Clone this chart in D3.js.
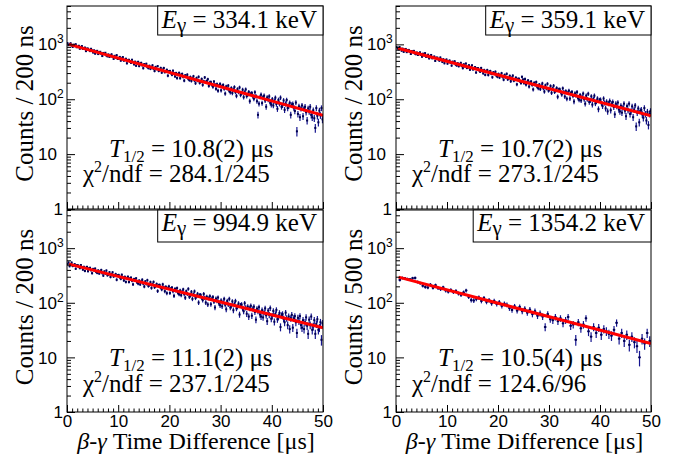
<!DOCTYPE html>
<html><head><meta charset="utf-8">
<script src="https://cdn.jsdelivr.net/npm/d3@7"></script>
<style>body{margin:0;background:#fff}svg{display:block}</style>
</head><body>
<svg id="c" width="676" height="461"></svg>
<script>
// ---------------- data ----------------
const energies = ["334.1", "359.1", "994.9", "1354.2"];
const halfLives = ["10.8(2)", "10.7(2)", "11.1(2)", "10.5(4)"];
const chi2Texts = ["284.1/245", "273.1/245", "237.1/245", "124.6/96"];
const yTitles = ["Counts / 200 ns", "Counts / 200 ns", "Counts / 200 ns", "Counts / 500 ns"];
const binWidths = [0.2, 0.2, 0.2, 0.5];
const firstBinCenters = [0.1, 0.1, 0.1, 0.75];
const xTickValues = [0, 10, 20, 30, 40, 50];
const yTickValues = [1, 10, 100, 1000];
const xTitle = "Time Difference [μs]";

const countsA = [
1049,965,1008,1046,957,899,989,935,1004,885,
896,943,834,891,929,829,842,873,752,835,
835,787,753,831,773,711,774,677,742,763,
665,721,733,675,612,698,667,703,627,606,
653,588,625,657,588,545,618,577,634,541,
552,591,507,553,586,507,520,546,452,520,
522,485,460,523,478,432,483,408,461,480,
402,448,460,416,368,437,413,443,385,369,
406,358,388,414,361,327,387,355,401,330,
340,372,306,344,371,311,321,343,269,324,
327,299,279,331,296,261,301,243,286,302,
242,280,289,255,218,273,256,280,235,224,
254,216,241,262,221,196,243,219,256,200,
208,234,183,213,250,205,215,232,175,202,
205,183,169,210,184,155,188,143,177,190,
145,174,182,156,127,171,157,177,142,134,
160,130,150,167,135,115,153,135,164,120,
129,149,109,134,151,114,122,136,92,126,
130,113,102,134,114,92,52,83,110,121,
85,109,116,95,73,108,98,113,86,80,
100,77,93,107,82,67,97,83,107,73,
78,95,64,83,97,69,75,86,52,79,
82,70,61,87,26,54,74,47,68,77,
49,68,73,58,41,68,60,73,52,47,
63,45,30,69,50,38,62,51,69,43];

const countsB = [
897,846,811,894,833,768,834,732,802,825,
720,779,793,732,667,756,724,762,683,662,
709,641,681,714,643,596,674,631,690,593,
604,646,556,605,641,558,571,599,500,571,
573,535,507,575,528,478,533,453,509,529,
447,496,507,461,411,483,458,490,429,413,
452,400,432,460,404,369,431,398,447,371,
381,416,345,386,414,350,361,384,307,364,
367,338,317,371,335,297,340,278,324,340,
277,316,326,290,252,309,291,317,268,257,
289,249,275,298,254,227,277,252,291,231,
240,267,213,246,269,218,228,247,187,233,
235,213,197,256,228,197,233,185,206,220,
170,202,210,182,151,199,184,206,168,159,
185,153,175,194,159,138,179,158,191,144,
151,174,131,157,176,136,145,160,111,150,
152,135,122,158,135,112,140,102,132,143,
103,130,136,115,91,128,117,135,105,98,
119,95,111,127,100,83,116,100,126,89,
95,113,80,101,116,84,91,103,66,96,
98,84,75,103,86,68,90,60,84,93,
63,83,89,72,53,83,74,87,65,60,
76,57,71,83,62,49,75,63,83,54,
60,74,47,65,77,32,57,68,38,61,
64,53,46,69,54,41,59,34,54,61];

const countsC = [
509,547,467,513,544,471,484,509,420,485,
488,454,430,492,449,405,455,383,435,454,
379,425,437,394,348,416,393,423,367,353,
390,343,373,399,348,315,374,343,389,319,
329,362,297,335,361,303,313,335,264,318,
321,294,275,326,292,257,298,241,284,300,
240,278,288,254,217,272,256,280,235,225,
255,217,243,264,224,198,246,222,259,203,
212,239,187,218,241,193,203,221,164,208,
211,190,176,217,191,163,196,150,185,199,
151,182,190,163,134,180,166,186,151,143,
168,138,159,176,144,124,163,145,180,129,
137,159,118,143,162,123,132,146,101,137,
139,123,112,145,124,101,129,93,121,132,
94,119,127,105,82,119,108,125,97,90,
110,86,103,118,92,76,108,93,118,82,
88,106,73,94,108,79,85,97,61,90,
93,79,70,98,81,63,85,56,79,88,
58,78,85,68,49,78,70,83,61,56,
73,54,67,79,59,46,72,60,80,51,
57,71,45,62,74,50,55,65,36,59,
62,51,44,66,52,39,56,33,52,60,
35,52,57,44,28,53,46,57,39,35,
48,33,44,54,38,27,49,39,56,32,
37,48,27,41,50,32,35,44,21,42];

const countsD = [
262,285,280,272,268,282,285,240,228,205,
195,190,215,188,210,185,178,192,168,160,
172,158,165,148,140,155,168,128,112,110,
118,125,108,122,104,112,98,108,95,102,
88,96,92,80,74,86,72,84,70,78,
66,75,62,70,58,64,56,36,62,50,
48,55,46,52,42,48,55,38,40,21,
44,34,40,52,30,24,36,28,35,26,
33,30,27,25,32,43,22,28,20,26,
17,24,19,16,10,22,18,28,20];

// fit curves (straight lines on the log scale): [time, counts] end points
const fitA = [[0.4, 1000], [50, 51]];
const fitB = [[0.4, 850], [50, 50]];
const fitC = [[0.4, 510], [50, 35]];
const fitD = [[0.5, 295], [50, 18]];

const allCounts = [countsA, countsB, countsC, countsD];
const allFits = [fitA, fitB, fitC, fitD];

// ---------------- layout ----------------
const frames = [
  {l: 67, r: 323, t: 6, b: 209, bottomRow: false},
  {l: 396, r: 651, t: 6, b: 209, bottomRow: false},
  {l: 67, r: 323, t: 210, b: 412, bottomRow: true},
  {l: 396, r: 651, t: 210, b: 412, bottomRow: true}
];
const SANS = "'Liberation Sans', Arial, Helvetica, sans-serif";
const SERIF = "'Liberation Serif', 'Times New Roman', Times, serif";
const svg = d3.select("#c");
svg.append("rect").attr("width", 676).attr("height", 461).attr("fill", "#fff");

frames.forEach((f, k) => {
  const x = d3.scaleLinear().domain([0, 50]).range([f.l, f.r]);
  const y = d3.scaleLog().domain([1, 5000]).range([f.b, f.t]);
  const g = svg.append("g");
  const clipId = "clip" + k;
  svg.append("clipPath").attr("id", clipId).append("rect")
    .attr("x", f.l).attr("y", f.t).attr("width", f.r - f.l).attr("height", f.b - f.t);

  // data
  const counts = allCounts[k];
  const bw = binWidths[k];
  const pts = counts.map((v, i) => ({t: firstBinCenters[k] + i * bw, v}));
  const dg = g.append("g").attr("clip-path", `url(#${clipId})`)
    .attr("stroke", "#14148f").attr("stroke-width", 1.2).attr("fill", "none");
  dg.selectAll("line.ev").data(pts).join("line").attr("class", "ev")
    .attr("x1", d => x(d.t)).attr("x2", d => x(d.t))
    .attr("y1", d => y(Math.max(1, d.v - Math.sqrt(d.v))))
    .attr("y2", d => y(d.v + Math.sqrt(d.v)));
  dg.selectAll("line.eh").data(pts).join("line").attr("class", "eh")
    .attr("x1", d => x(d.t - bw / 2)).attr("x2", d => x(d.t + bw / 2))
    .attr("y1", d => y(d.v)).attr("y2", d => y(d.v));
  dg.selectAll("rect.mk").data(pts).join("rect").attr("class", "mk")
    .attr("x", d => x(d.t) - 1).attr("y", d => y(d.v) - 1).attr("width", 2).attr("height", 2)
    .attr("fill", "#000050").attr("stroke", "none");

  // fit
  g.append("path").attr("clip-path", `url(#${clipId})`)
    .datum(allFits[k])
    .attr("d", d3.line().x(d => x(d[0])).y(d => y(d[1])))
    .attr("stroke", "#ff0000").attr("stroke-width", 3).attr("fill", "none");

  // axes: y major + minor
  const yMajor = d3.axisLeft(y).tickValues(yTickValues).tickSize(-8).tickSizeOuter(0).tickFormat("");
  const yMinor = d3.axisLeft(y).tickValues(y.ticks().filter(v => !yTickValues.includes(v))).tickSize(-4).tickSizeOuter(0).tickFormat("");
  [yMajor, yMinor].forEach(ax => {
    const a = g.append("g").attr("transform", `translate(${f.l},0)`).call(ax);
    a.select(".domain").remove();
    a.selectAll("line").attr("stroke", "#000");
  });
  // y labels
  yTickValues.forEach(v => {
    const exp = Math.round(Math.log10(v));
    const t = g.append("text").attr("y", y(v)).attr("dy", "0.36em")
      .attr("font-family", SANS).attr("font-size", 17).attr("fill", "#000");
    if (exp === 0) {
      t.attr("x", f.l - 4).attr("text-anchor", "end").text("1");
    } else {
      t.attr("x", f.l - 29).attr("text-anchor", "start").text("10");
      if (exp > 1) t.append("tspan").attr("font-size", 12).attr("dy", -7).text(String(exp));
    }
  });

  // x axes
  const xMajor = d3.axisBottom(x).tickValues(xTickValues).tickSize(-7).tickSizeOuter(0).tickPadding(3)
    .tickFormat(f.bottomRow ? d3.format("d") : "");
  const xMinor = d3.axisBottom(x).tickValues(d3.range(0, 51, 1).filter(v => v % 10 !== 0)).tickSize(-3.5).tickSizeOuter(0).tickFormat("");
  [xMajor, xMinor].forEach(ax => {
    const a = g.append("g").attr("transform", `translate(0,${f.b})`).call(ax);
    a.select(".domain").remove();
    a.selectAll("line").attr("stroke", "#000");
    a.selectAll("text").attr("font-family", SANS).attr("font-size", 17).attr("fill", "#000");
  });

  // frame
  g.append("rect").attr("x", f.l).attr("y", f.t).attr("width", f.r - f.l).attr("height", f.b - f.t)
    .attr("fill", "none").attr("stroke", "#000").attr("stroke-width", 1);

  // y title
  g.append("text")
    .attr("transform", `translate(${f.l - 34.5},${(f.t + f.b) / 2 - 4}) rotate(-90)`)
    .attr("text-anchor", "middle").attr("font-family", SERIF).attr("font-size", 25).attr("fill", "#000")
    .text(yTitles[k]);

  // x title
  if (f.bottomRow) {
    const xt = g.append("text").attr("x", (f.l + f.r) / 2 + 1).attr("y", 449)
      .attr("text-anchor", "middle").attr("font-family", SERIF).attr("font-size", 24).attr("fill", "#000");
    xt.append("tspan").attr("font-style", "italic").text("β");
    xt.append("tspan").text("-");
    xt.append("tspan").attr("font-style", "italic").text("γ");
    xt.append("tspan").text(" " + xTitle);
  }

  // energy box
  const boxH = f.bottomRow ? 32 : 29;
  const boxRect = g.append("rect").attr("y", f.t).attr("height", boxH)
    .attr("fill", "#fff").attr("stroke", "#000").attr("stroke-width", 1);
  const et = g.append("text").attr("y", f.t + (f.bottomRow ? 21 : 22))
    .attr("font-family", SERIF).attr("font-size", 25).attr("fill", "#000");
  et.append("tspan").attr("font-style", "italic").text("E");
  et.append("tspan").attr("font-size", 21).attr("dy", 4).text("γ");
  et.append("tspan").attr("dy", -4).text(" = " + energies[k] + " keV");
  const w = et.node().getComputedTextLength();
  const boxW = w + 10;
  et.attr("x", f.r - boxW + 4);
  boxRect.attr("x", f.r - boxW).attr("width", boxW);

  // fit results
  const yT = f.bottomRow ? 365.5 : 157;
  const yC = f.bottomRow ? 392 : 182;
  const tt = g.append("text").attr("x", f.l + 42).attr("y", yT)
    .attr("font-family", SERIF).attr("font-size", 25).attr("fill", "#000");
  tt.append("tspan").attr("font-style", "italic").text("T");
  tt.append("tspan").attr("font-size", 17).attr("dy", 5).text("1/2");
  tt.append("tspan").attr("dy", -5).text(" = " + halfLives[k] + " μs");
  const ct = g.append("text").attr("x", f.l + 16).attr("y", yC)
    .attr("font-family", SERIF).attr("font-size", 25).attr("fill", "#000");
  ct.append("tspan").text("χ");
  ct.append("tspan").attr("font-size", 16).attr("dy", -10).text("2");
  ct.append("tspan").attr("dy", 10).text("/ndf = " + chi2Texts[k]);
});
</script>
</body></html>
